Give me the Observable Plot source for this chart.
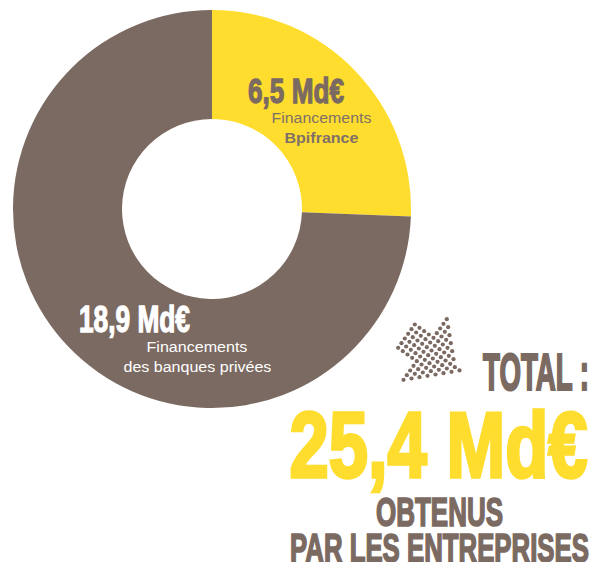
<!DOCTYPE html>
<html><head><meta charset="utf-8">
<script src="https://cdn.jsdelivr.net/npm/d3@7"></script>
<script src="https://cdn.jsdelivr.net/npm/@observablehq/plot@0.6"></script>
<style>html,body{margin:0;padding:0;background:#fff}svg{display:block}</style>
</head><body><div id="chart"></div>
<script>
const sliceNames = ["Financements Bpifrance", "Financements des banques privées"];
const sliceValues = [6.5, 18.9];
const sliceColors = ["#ffdd2e", "#7b6a61"];
const slices = sliceNames.map((name, i) => ({name, value: sliceValues[i]}));
const total = d3.sum(sliceValues);

const brown = "#7b6a61", yellow = "#ffdd2e", bodyGrey = "#7f7068";
const display = "'Liberation Sans Narrow','Liberation Sans',sans-serif";
const body = "'Liberation Sans',sans-serif";

const heavyTexts = ["6,5 Md€", "18,9 Md€", "TOTAL :", "25,4 Md€", "OBTENUS", "PAR LES ENTREPRISES"];
const heavyLayout = [
  {x:247.5,y:102,len:96,size:36,fill:brown,sw:1.1},
  {x:78.5,y:331,len:111,size:36,fill:"#fff",sw:1.1},
  {x:482.5,y:389,len:106,size:52,fill:brown,sw:1.8},
  {x:289,y:476,len:298,size:92,fill:yellow,sw:3},
  {x:375.5,y:525,len:127,size:40,fill:brown,sw:1.4},
  {x:289.5,y:561,len:299,size:40,fill:brown,sw:1.4}
];
const bodyTexts = ["Financements", "Bpifrance", "Financements", "des banques privées"];
const bodyLayout = [
  {x:271,y:122,len:100,weight:400,fill:bodyGrey},
  {x:284,y:142,len:74,weight:700,fill:bodyGrey},
  {x:146,y:351,len:101,weight:400,fill:"#fff"},
  {x:123,y:371,len:148,weight:400,fill:"#fff"}
];
const heavy = heavyTexts.map((text,i)=>({text,...heavyLayout[i]}));
const small = bodyTexts.map((text,i)=>({text,...bodyLayout[i]}));

// dotted arrow ornament: a rotated square lattice, rows i along the arrow's axis
const lattice = [];
for (let i=0;i<=11;i++){
  const lo = i<4 ? -5 : -9+(i-4);
  const hi = i<4 ? 0 : 4-(i-4)*6/7;
  for (let j=lo;j<=hi+1e-6;j++){
    lattice.push({px:414.3+i*4.67+j*3.33, py:324+i*3.33-j*4.67});
  }
}

const cx=212, cy=209, R=199, r=90;
const svg = Plot.plot({
  width:592,height:562,margin:0,
  x:{type:"identity",axis:null},y:{type:"identity",axis:null},
  color:{domain:sliceNames,range:sliceColors},
  style:{background:"#fff"},
  marks:[
    Plot.barX(slices,{x:"value",fill:"name",
      render(index,scales,values){
        const arc=d3.arc().innerRadius(r).outerRadius(R);
        const g=d3.create("svg:g").attr("transform",`translate(${cx},${cy})`);
        for(const i of index){
          g.append("path").attr("fill",values.fill[i])
           .attr("d",arc({startAngle:values.x1[i]/total*2*Math.PI,endAngle:values.x2[i]/total*2*Math.PI}));
        }
        return g.node();
      }}),
    Plot.dot(lattice,{x:"px",y:"py",r:2.1,fill:brown}),
    ...small.map(d=>Plot.text([d],{x:"x",y:"y",text:"text",textAnchor:"start",lineAnchor:"bottom",fontFamily:body,fontWeight:d.weight,fontSize:15,fill:d.fill})),
    ...heavy.map(d=>Plot.text([d],{x:"x",y:"y",text:"text",textAnchor:"start",lineAnchor:"bottom",fontFamily:display,fontWeight:700,fontSize:d.size,fill:d.fill,stroke:d.fill,strokeWidth:d.sw,strokeLinejoin:"miter"}))
  ]
});
document.getElementById("chart").append(svg);
// fit each label to its measured width by condensing it horizontally
const all=[...small,...heavy];
d3.select(svg).selectAll("text").each(function(d,i){
  const m=all[i];
  if(!m) return;
  const w=this.getComputedTextLength();
  this.removeAttribute("x");this.removeAttribute("y");
  this.setAttribute("transform",`translate(${m.x},${m.y}) scale(${m.len/w},1)`);
  this.setAttribute("vector-effect","non-scaling-stroke");
});
</script></body></html>
